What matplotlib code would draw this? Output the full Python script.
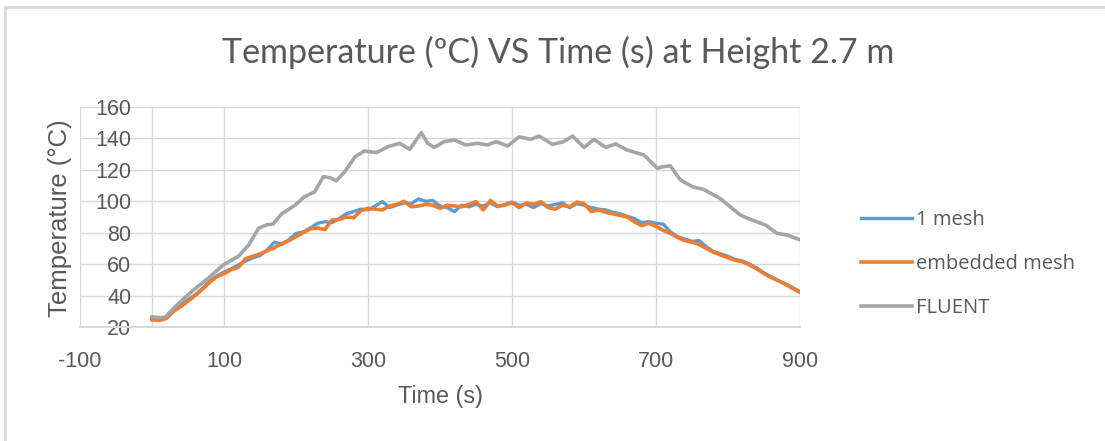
import matplotlib
matplotlib.use("Agg")
import matplotlib.pyplot as plt
from matplotlib.lines import Line2D

plt.rcParams["axes.unicode_minus"] = False

# ---- data ---------------------------------------------------------------
time_s = list(range(0, 901, 10))

one_mesh = [25.5, 25, 26.5, 31, 34, 37.5, 40.5, 44.5, 49, 52.5,
            55, 57, 59.5, 62, 64, 65.5, 69, 74, 72.5, 75.5,
            79.5, 80.5, 83, 86, 87, 86.5, 89, 92, 93.5, 95,
            94.5, 97, 99.8, 96, 97.5, 99, 98.5, 101.5, 100, 100.5,
            97, 96, 93.4, 97.5, 96.5, 98, 97, 99, 96.5, 98,
            99.5, 97.5, 98, 96, 98.5, 97, 98, 99, 96, 98.5,
            97.5, 96, 95, 94.5, 93, 92, 90.5, 89, 86.5, 87,
            86, 85.5, 80.5, 77.5, 76, 74.5, 75, 71, 68, 66.5,
            65, 63, 62, 60, 57.5, 54.5, 52, 49.5, 47.5, 45,
            42.5]

embedded_mesh = [24.5, 24.2, 25.5, 30, 33, 36.5, 40, 44, 48.5, 52,
                 54, 56.5, 58, 63.5, 65, 66.5, 68.5, 70.5, 73, 75,
                 77.5, 80, 82.5, 83, 82, 88, 88.5, 90, 89.5, 94,
                 95.5, 95, 94.5, 97, 98, 100, 96.5, 97, 98, 97.5,
                 95.5, 97.5, 97, 96.5, 98, 99.8, 94.5, 100.5, 97, 97.5,
                 99, 96, 99, 98, 99.8, 96, 95, 97.5, 96.5, 99.5,
                 98.5, 93.5, 94.5, 93, 92, 91, 90, 87, 84.5, 86,
                 84, 81.5, 79.6, 77, 75, 74, 72.5, 70, 67.5, 65.8,
                 64, 62.5, 61.5, 59.5, 57, 54, 51.5, 49.5, 47, 44.5,
                 42]

fluent_time = [0, 10, 18, 32, 55, 78, 99, 120, 134, 148, 159, 168, 180, 199,
               212, 226, 238, 247, 256, 268, 282, 295, 312, 328, 344, 358,
               374, 383, 392, 406, 420, 436, 452, 466, 478, 494, 510, 526,
               538, 556, 572, 584, 600, 614, 630, 644, 660, 683, 702, 709,
               720, 734, 752, 766, 789, 817, 831, 852, 868, 882, 900]
fluent = [26.5, 26, 26, 32.9, 42.5, 51, 59.5, 65, 72, 82.8, 85, 85.5, 92, 97.6,
          103, 106, 115.7, 115, 113, 119, 128.4, 132, 131, 134.8, 136.9, 133,
          143.7, 136.9, 134.3, 138, 139, 135.8, 136.9, 135.8, 138, 135.2, 141,
          139.4, 141.5, 136.2, 138, 141.5, 134.3, 139.4, 134.3, 136.5, 132.6,
          129.5, 121, 122, 122.5, 113.5, 109, 107.6, 101.8, 91.3, 88.5, 84.9,
          79.6, 78.5, 75.5]

x_ticks = [-100, 100, 300, 500, 700, 900]
y_ticks = [20, 40, 60, 80, 100, 120, 140, 160]

# ---- style --------------------------------------------------------------
TEXT = "#595959"
GRID = "#d9d9d9"
TICKFONT = ["Liberation Sans", "DejaVu Sans"]

fig = plt.figure(figsize=(11.05, 4.41), dpi=100)
ax = fig.add_axes([80 / 1105, 114 / 441, 720 / 1105, 220 / 441])

ax.plot(time_s, one_mesh, color="#5B9BD5", lw=2.4, label="1 mesh",
        solid_joinstyle="round", zorder=3)
ax.plot(time_s, embedded_mesh, color="#ED7D31", lw=2.6, label="embedded mesh",
        solid_joinstyle="round", zorder=4)
ax.plot(fluent_time, fluent, color="#A5A5A5", lw=2.6, label="FLUENT",
        solid_joinstyle="round", zorder=5)

ax.set_xlim(-100, 900)
ax.set_ylim(20, 160)
ax.set_xticks(x_ticks)
ax.set_yticks(y_ticks)
ax.grid(True, color=GRID, lw=1.0, zorder=0)
ax.set_axisbelow(True)

# value axis crosses at t = 0
for s in ("top", "right"):
    ax.spines[s].set_visible(False)
ax.spines["left"].set_position(("data", 0))
ax.spines["left"].set_color(GRID)
ax.spines["left"].set_linewidth(1.0)
ax.spines["bottom"].set_color(GRID)
ax.spines["bottom"].set_linewidth(1.5)

ax.tick_params(axis="both", length=0, colors=TEXT, labelsize=15.5)
ax.tick_params(axis="y", pad=15)
ax.tick_params(axis="x", pad=17)
for lab in ax.get_xticklabels() + ax.get_yticklabels():
    lab.set_family(TICKFONT)

ax.set_xlabel("Time (s)", fontsize=16.8, color=TEXT, family=TICKFONT, labelpad=10)
fig.text(60 / 1105, 1 - 218 / 441, "Temperature (°C)", rotation=90,
         ha="center", va="center", fontsize=18.5, color=TEXT, family=TICKFONT)

fig.text(558 / 1105, 1 - 52 / 441, "Temperature (ºC) VS Time (s) at Height 2.7 m",
         ha="center", va="center", fontsize=24.5, color=TEXT,
         family=["Lato", "DejaVu Sans"])

leg = ax.legend(loc="center left", bbox_to_anchor=(1.06, 0.286), frameon=False,
                handlelength=2.5, handletextpad=0.2, labelspacing=1.2,
                prop={"family": "Open Sans", "size": 14.5})
for t in leg.get_texts():
    t.set_color(TEXT)

# chart frame
fig.add_artist(Line2D([5 / 1105, 1], [1 - 7 / 441, 1 - 7 / 441],
                      color=GRID, lw=2, transform=fig.transFigure))
fig.add_artist(Line2D([5 / 1105, 5 / 1105], [0, 1 - 7 / 441],
                      color=GRID, lw=2, transform=fig.transFigure))

fig.savefig("out.png", dpi=100)
